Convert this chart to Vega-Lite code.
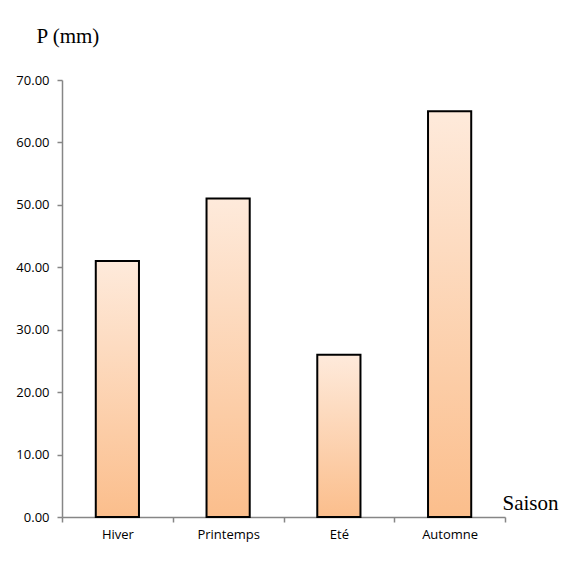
{
  "$schema": "https://vega.github.io/schema/vega-lite/v6.json",
  "autosize": "none",
  "width": 443,
  "height": 437,
  "padding": {"left": 62, "top": 80, "right": 79, "bottom": 53},
  "background": "white",
  "data": {"values": [
    {"Saison": "Hiver", "P": 41},
    {"Saison": "Printemps", "P": 51},
    {"Saison": "Eté", "P": 26},
    {"Saison": "Automne", "P": 65}
  ]},
  "mark": {
    "type": "bar",
    "stroke": "black",
    "strokeWidth": 2,
    "width": {"band": 0.39},
    "color": {
      "gradient": "linear",
      "x1": 0, "y1": 0, "x2": 0, "y2": 1,
      "stops": [
        {"offset": 0, "color": "#FEEADB"},
        {"offset": 1, "color": "#FBBE8C"}
      ]
    }
  },
  "encoding": {
    "x": {
      "field": "Saison",
      "type": "nominal",
      "sort": null,
      "scale": {"paddingInner": 0, "paddingOuter": 0},
      "axis": {
        "title": "Saison",
        "titleFont": "Liberation Serif",
        "titleFontSize": 21,
        "titleFontWeight": "normal",
        "titleColor": "black",
        "titleAngle": 0,
        "titleAlign": "left",
        "titleBaseline": "alphabetic",
        "titleAnchor": "start",
        "titleX": 440,
        "titleY": -8,
        "labelAngle": 0,
        "labelFont": "Open Sans",
        "labelFontSize": 13,
        "labelColor": "black",
        "labelPadding": 6,
        "tickBand": "extent",
        "tickSize": 5,
        "tickColor": "#868686",
        "domainColor": "#868686",
        "domainWidth": 1.5,
        "tickWidth": 1.5
      }
    },
    "y": {
      "field": "P",
      "type": "quantitative",
      "scale": {"domain": [0, 70], "nice": false},
      "axis": {
        "title": "P (mm)",
        "titleFont": "Liberation Serif",
        "titleFontSize": 21,
        "titleFontWeight": "normal",
        "titleColor": "black",
        "titleAngle": 0,
        "titleAlign": "left",
        "titleBaseline": "alphabetic",
        "titleX": -26,
        "titleY": -38,
        "values": [0, 10, 20, 30, 40, 50, 60, 70],
        "format": ".2f",
        "labelFont": "Open Sans",
        "labelFontSize": 13,
        "labelColor": "black",
        "labelPadding": 8,
        "grid": false,
        "tickSize": 5,
        "tickColor": "#868686",
        "domainColor": "#868686",
        "domainWidth": 1.5,
        "tickWidth": 1.5
      }
    }
  },
  "config": {"view": {"stroke": null}}
}
